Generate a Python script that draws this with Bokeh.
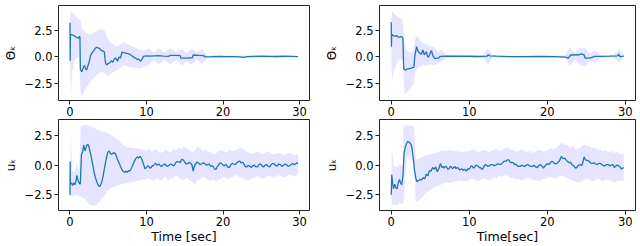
from bokeh.plotting import figure
from bokeh.layouts import column, row
from bokeh.models import Range1d, FixedTicker
from bokeh.embed import file_html
from bokeh.resources import INLINE

# ---------------- data ----------------
# top-left: Theta_k mean
tl_t = [0.0, 0.03, 0.06, 0.3, 0.6, 0.9, 1.1, 1.2, 1.3, 1.36, 1.55, 1.75, 1.9, 2.05, 2.2, 2.35, 2.5, 2.7,
        2.9, 3.1, 3.3, 3.5, 3.7, 3.9, 4.1, 4.3, 4.5, 4.62, 4.8, 5.0, 5.2, 5.4, 5.6, 5.8, 6.0, 6.2, 6.4,
        6.6, 6.8, 7.0, 7.3, 7.6, 7.9, 8.2, 8.5, 8.8, 9.0, 9.2, 9.4, 9.6, 10.0, 10.5, 11.0, 11.6, 12.2,
        12.9, 13.1, 13.8, 14.4, 14.5, 15.3, 16.0, 16.1, 16.8, 17.5, 17.6, 18.5, 19.5, 20.5, 21.5, 22.2,
        22.7, 23.2, 24.0, 25.0, 26.0, 27.0, 28.0, 29.0, 29.8]
tl_m = [3.2, -0.35, 2.1, 2.05, 1.95, 1.8, 1.75, 1.9, 1.85, -1.15, -1.4, -0.95, -0.8, -1.15, -1.2, -0.8, -0.5,
        0.15, 0.4, 0.55, 0.8, 0.9, 0.85, 0.75, 0.6, 0.55, 0.45, -0.5, -0.75, -0.6, -0.55, -0.35, -0.5, -0.2,
        -0.1, -0.4, 0.0, -0.1, 0.45, 0.4, 0.35, 0.3, 0.2, 0.05, -0.1, -0.25, -0.2, -0.4, -0.25, 0.05, 0.1,
        0.08, 0.1, 0.12, 0.08, 0.05, 0.15, 0.15, 0.12, -0.12, -0.1, -0.08, 0.18, 0.15, 0.12, 0.0, 0.02,
        0.05, 0.03, 0.02, 0.0, -0.05, 0.02, 0.05, 0.06, 0.05, 0.04, 0.06, 0.05, 0.03]
tl_bt = [0.0, 0.1, 0.3, 0.6, 0.9, 1.2, 1.4, 1.6, 2.0, 2.5, 3.0, 3.5, 4.0, 4.5, 5.0, 5.5, 6.0, 6.5, 7.0,
         7.5, 8.0, 8.5, 9.0, 9.6, 10.3, 10.95, 11.6, 12.35, 13.1, 13.85, 14.6, 15.25, 15.9, 16.6, 17.3,
         17.9, 19.0, 21.0, 23.0, 25.0, 27.0, 29.8]
tl_hi = [3.2, 4.3, 4.1, 3.9, 3.7, 3.5, 3.4, 2.6, 2.3, 2.1, 2.2, 2.4, 2.6, 2.5, 1.6, 1.2, 1.0, 1.1, 1.4,
         1.2, 1.0, 0.9, 0.7, 0.6, 0.8, 0.4, 0.8, 0.4, 0.85, 0.45, 0.75, 0.35, 0.75, 0.45, 0.75,
         0.15, 0.12, 0.1, 0.12, 0.12, 0.1, 0.1]
tl_lo = [-0.35, -3.6, -1.5, -0.3, -0.1, 0.0, -3.6, -3.6, -3.0, -2.5, -2.0, -1.7, -1.4, -1.5, -1.8, -1.5,
         -1.3, -1.1, -0.8, -0.9, -1.0, -1.0, -1.1, -1.0, -0.75, -0.3, -0.7, -0.3, -0.7, -0.3, -0.8, -0.4,
         -0.7, -0.25, -0.7, -0.1, -0.08, -0.06, -0.06, -0.05, -0.05, -0.05]

# top-right: Theta_k mean
tr_t = [0.0, 0.03, 0.06, 0.3, 0.5, 0.7, 0.9, 1.1, 1.3, 1.5, 1.6, 1.8, 2.0, 2.3, 2.6, 2.9, 3.05, 3.25,
        3.45, 3.65, 3.85, 4.05, 4.25, 4.5, 4.7, 4.9, 5.15, 5.35, 5.6, 6.0, 6.3, 7.0, 8.0, 9.0, 10.0, 11.0,
        12.0, 12.3, 12.45, 12.6, 13.5, 15.0, 17.0, 19.0, 21.0, 22.3, 22.7, 23.0, 24.0, 24.4, 24.7, 24.85,
        25.5, 26.1, 27.0, 28.0, 29.0, 29.15, 29.3, 29.8]
tr_m = [3.25, 0.95, 2.1, 2.0, 1.9, 2.0, 1.85, 1.85, 1.9, 1.75, -1.1, -1.25, -1.15, -1.1, -1.05, -0.95, 0.2,
        0.95, 0.5, 0.35, 0.25, 0.65, 0.2, 0.5, -0.05, 0.15, 0.6, 0.1, -0.15, -0.12, 0.05, 0.08, 0.06, 0.08,
        0.06, 0.04, 0.05, 0.08, 0.2, 0.1, 0.07, 0.03, 0.02, 0.04, 0.03, -0.02, -0.12, 0.18, 0.2, 0.28,
        0.2, -0.12, -0.1, 0.05, 0.05, 0.07, 0.1, 0.25, 0.02, 0.08]
tr_bt = [0.0, 0.1, 0.3, 0.6, 0.9, 1.2, 1.5, 1.7, 2.0, 2.4, 2.8, 3.1, 3.4, 3.8, 4.2, 4.6, 5.0, 5.5, 6.0,
         6.5, 7.0, 8.0, 10.0, 11.8, 12.4, 13.0, 15.0, 18.0, 21.0, 22.3, 22.9, 23.5, 24.1, 24.8, 25.5,
         26.1, 26.7, 27.5, 28.5, 29.2, 29.8]
tr_hi = [3.3, 4.3, 4.1, 3.9, 3.7, 3.6, 3.4, 1.2, 0.6, 0.4, 0.5, 1.8, 2.0, 1.4, 1.2, 1.2, 1.0, 0.9, 0.5,
         0.7, 0.2, 0.15, 0.12, 0.15, 0.8, 0.15, 0.1, 0.1, 0.1, 0.15, 0.85, 0.4, 0.8, 0.9, 0.3, 0.65,
         0.2, 0.15, 0.15, 0.75, 0.25]
tr_lo = [0.9, -2.2, -1.5, -0.8, -0.3, -0.2, -0.3, -3.5, -3.3, -3.0, -2.6, -1.4, -1.0, -0.9, -0.8, -0.8,
         -0.7, -0.8, -0.6, -0.4, -0.1, -0.05, -0.05, -0.05, -0.7, -0.05, -0.05, -0.05, -0.05, -0.1, -0.85,
         -0.3, -0.7, -0.9, -0.4, -0.6, -0.1, -0.05, -0.05, -0.55, -0.1]

# bottom-left: u_k mean, (time, value)
bl_pts = [
    (0.0, -2.5), (0.03, 0.3), (0.06, -1.6), (0.2, -1.5), (0.35, -1.7), (0.5, -1.5), (0.65, -1.65),
    (0.8, -1.3), (0.9, -0.85), (1.05, -1.3), (1.2, -1.5), (1.35, -1.6), (1.5, 0.9), (1.65, 1.1),
    (1.8, 1.7), (1.95, 1.2), (2.1, 1.5), (2.25, 1.75), (2.4, 1.7), (2.55, 1.35), (2.75, 0.8),
    (2.95, 0.1), (3.15, -0.6), (3.35, -1.1), (3.55, -1.5), (3.75, -1.75), (3.9, -1.8), (4.1, -1.55),
    (4.3, -1.0), (4.5, -0.3), (4.7, 0.4), (4.9, 1.0), (5.05, 1.2), (5.2, 1.1), (5.4, 0.9), (5.6, 1.0),
    (5.8, 1.05), (6.0, 0.9), (6.2, 0.5), (6.4, 0.2), (6.6, -0.1), (6.8, -0.4), (7.0, -0.55),
    (7.2, -0.6), (7.35, -0.5), (7.5, -0.6), (7.65, -0.45), (7.8, -0.5), (8.0, -0.3), (8.2, 0.0),
    (8.4, 0.3), (8.6, 0.55), (8.8, 0.7), (9.0, 0.6), (9.2, 0.75), (9.4, 0.5), (9.6, 0.1), (9.8, -0.3),
    (10.0, -0.2), (10.15, -0.05), (10.3, -0.1), (10.45, -0.25), (10.6, -0.2), (10.75, -0.05),
    (10.9, -0.05), (11.05, 0.1), (11.2, 0.15), (11.35, 0.0), (11.5, 0.05), (11.65, 0.1), (11.8, -0.05),
    (12.0, -0.1), (12.2, 0.05), (12.4, 0.1), (12.6, -0.05), (12.8, -0.1), (13.0, 0.05), (13.2, 0.1),
    (13.4, 0.0), (13.6, -0.05), (13.8, 0.2), (14.0, 0.3), (14.2, 0.3), (14.4, 0.2), (14.6, 0.5),
    (14.8, 0.45), (15.0, 0.25), (15.2, 0.1), (15.4, 0.15), (15.6, 0.25), (15.8, 0.15), (15.95, 0.0),
    (16.1, -0.5), (16.25, -0.1), (16.4, 0.1), (16.6, 0.25), (16.8, 0.2), (17.0, 0.05), (17.2, 0.1),
    (17.4, 0.2), (17.6, 0.15), (17.8, 0.0), (18.0, 0.05), (18.2, 0.1), (18.4, -0.1), (18.6, -0.05),
    (18.8, -0.2), (18.95, -0.35), (19.1, -0.35), (19.25, -0.1), (19.4, 0.0), (19.6, 0.2), (19.8, 0.15),
    (20.0, 0.0), (20.2, -0.05), (20.4, 0.05), (20.6, -0.15), (20.8, -0.2), (21.0, 0.0), (21.2, 0.15),
    (21.4, 0.1), (21.6, 0.05), (21.8, 0.2), (22.0, 0.3), (22.2, 0.35), (22.35, 0.2), (22.5, 0.25),
    (22.65, 0.2), (22.8, 0.0), (22.95, -0.15), (23.1, -0.15), (23.3, 0.0), (23.5, -0.1), (23.7, -0.2),
    (23.9, -0.05), (24.1, 0.0), (24.3, -0.15), (24.5, -0.15), (24.7, 0.05), (24.9, 0.1), (25.1, -0.05),
    (25.3, -0.15), (25.5, 0.0), (25.7, 0.05), (25.9, -0.1), (26.1, -0.15), (26.3, 0.05), (26.5, 0.15),
    (26.7, 0.1), (26.9, -0.05), (27.1, -0.05), (27.3, 0.1), (27.5, 0.05), (27.7, -0.1), (27.9, 0.0),
    (28.1, 0.1), (28.3, 0.05), (28.5, -0.1), (28.7, -0.05), (28.9, 0.05), (29.1, 0.15), (29.3, 0.05),
    (29.5, 0.1), (29.65, 0.2), (29.8, 0.15)]
# bottom-left band, (time, lower, upper)
bl_band = [
    (0.0, -2.5, -2.5), (0.08, -2.6, 2.7), (0.3, -2.6, -0.5), (0.6, -2.6, -0.6), (0.9, -2.5, 0.1),
    (1.2, -2.6, -0.5), (1.4, -2.7, 3.3), (1.6, -2.7, 3.35), (2.0, -2.9, 3.4), (2.5, -3.3, 3.35),
    (3.0, -3.45, 3.2), (3.5, -3.35, 3.0), (4.0, -3.0, 2.85), (4.5, -2.6, 2.8), (5.0, -2.1, 2.7),
    (5.5, -1.85, 2.5), (6.0, -1.75, 2.3), (6.5, -1.65, 2.0), (7.0, -1.55, 1.65), (7.5, -1.5, 1.5),
    (8.0, -1.45, 1.5), (8.5, -1.4, 1.45), (9.0, -1.3, 1.4), (9.5, -1.2, 1.3), (10.0, -1.2, 1.25),
    (10.35, -1.05, 1.4), (10.7, -1.3, 1.15), (11.05, -1.25, 1.35), (11.4, -1.1, 1.3), (11.75, -1.3, 1.05),
    (12.1, -1.2, 1.1), (12.45, -1.0, 1.3), (12.8, -1.3, 1.2), (13.15, -1.15, 1.1), (13.5, -1.1, 1.3),
    (13.85, -0.9, 1.25), (14.2, -1.0, 1.45), (14.55, -1.25, 1.4), (14.9, -1.2, 1.6), (15.25, -1.05, 1.45),
    (15.6, -1.3, 1.3), (15.95, -1.4, 1.1), (16.3, -1.6, 1.2), (16.65, -1.3, 1.55), (17.0, -1.2, 1.45),
    (17.35, -1.0, 1.2), (17.7, -1.1, 1.3), (18.05, -1.25, 1.15), (18.4, -1.3, 1.1), (18.75, -1.2, 0.95),
    (19.1, -1.4, 1.0), (19.45, -1.25, 1.2), (19.8, -1.1, 1.3), (20.15, -0.95, 1.15), (20.5, -1.2, 1.05),
    (20.85, -1.1, 1.3), (21.2, -1.0, 1.2), (21.55, -0.85, 1.25), (21.9, -0.9, 1.35), (22.25, -1.05, 1.5),
    (22.6, -1.1, 1.4), (22.95, -1.25, 1.2), (23.3, -1.3, 1.1), (23.65, -1.15, 0.95), (24.0, -1.1, 1.0),
    (24.35, -0.95, 1.15), (24.7, -1.0, 1.1), (25.05, -1.15, 0.95), (25.4, -1.1, 1.0), (25.75, -0.95, 1.15),
    (26.1, -0.9, 1.1), (26.45, -1.05, 0.9), (26.8, -1.0, 0.95), (27.15, -0.85, 1.05), (27.5, -0.9, 1.0),
    (27.85, -1.05, 0.85), (28.2, -1.0, 0.9), (28.55, -0.85, 1.05), (28.9, -0.8, 1.0), (29.25, -0.95, 0.85),
    (29.8, -0.8, 0.9)]

# bottom-right: u_k mean, (time, value)
br_pts = [
    (0.0, -2.5), (0.06, -0.8), (0.2, -1.6), (0.3, -2.0), (0.45, -1.6), (0.6, -1.9), (0.75, -2.0),
    (0.9, -1.5), (1.05, -1.2), (1.2, -1.5), (1.35, -1.65), (1.5, -0.9), (1.65, 1.0), (1.8, 1.5),
    (1.95, 1.8), (2.1, 2.0), (2.25, 1.95), (2.4, 1.85), (2.55, 1.75), (2.7, 1.3), (2.85, 0.4),
    (3.0, -0.5), (3.15, -1.1), (3.3, -1.4), (3.5, -1.3), (3.7, -1.2), (3.9, -1.25), (4.1, -1.05),
    (4.3, -1.15), (4.5, -0.75), (4.7, -0.9), (4.9, -0.45), (5.1, -0.5), (5.3, -0.2), (5.5, -0.35),
    (5.7, -0.15), (5.9, -0.55), (6.1, -0.3), (6.3, 0.15), (6.5, -0.2), (6.65, -0.1), (6.8, -0.25),
    (6.95, -0.1), (7.1, -0.15), (7.25, -0.35), (7.4, -0.3), (7.55, -0.1), (7.7, -0.15), (7.85, -0.3),
    (8.0, -0.2), (8.15, -0.1), (8.3, -0.3), (8.45, -0.2), (8.6, -0.25), (8.75, -0.4), (8.9, -0.35),
    (9.05, -0.3), (9.2, -0.45), (9.35, -0.35), (9.5, -0.4), (9.65, -0.5), (9.8, -0.3), (9.95, -0.35),
    (10.1, -0.25), (10.25, -0.05), (10.4, -0.1), (10.55, -0.25), (10.7, -0.15), (10.85, 0.0),
    (11.0, -0.05), (11.15, -0.1), (11.3, -0.2), (11.45, -0.2), (11.6, -0.35), (11.75, -0.3),
    (11.9, -0.1), (12.05, 0.05), (12.2, 0.0), (12.4, -0.1), (12.6, -0.05), (12.8, 0.05), (13.0, 0.05),
    (13.2, -0.05), (13.4, 0.0), (13.6, 0.1), (13.8, 0.1), (14.0, 0.05), (14.2, 0.15), (14.4, 0.3),
    (14.6, 0.35), (14.75, 0.35), (14.9, 0.45), (15.05, 0.45), (15.2, 0.3), (15.35, 0.2), (15.5, 0.25),
    (15.65, 0.2), (15.8, 0.05), (15.95, 0.1), (16.1, 0.0), (16.3, -0.1), (16.5, -0.1), (16.7, 0.0),
    (16.9, -0.05), (17.1, -0.1), (17.3, 0.0), (17.5, 0.05), (17.7, -0.05), (17.9, -0.1), (18.1, -0.1),
    (18.3, 0.0), (18.5, -0.15), (18.7, -0.2), (18.9, -0.05), (19.05, 0.05), (19.2, 0.0), (19.35, -0.1),
    (19.5, -0.25), (19.65, -0.1), (19.8, 0.0), (19.95, 0.1), (20.1, 0.1), (20.3, 0.1), (20.5, 0.3),
    (20.7, 0.3), (20.9, 0.15), (21.1, 0.1), (21.3, 0.2), (21.55, 0.35), (21.8, 0.75), (21.95, 0.6),
    (22.1, 0.55), (22.25, 0.6), (22.4, 0.45), (22.6, 0.3), (22.8, 0.2), (22.95, 0.25), (23.1, 0.1),
    (23.25, 0.0), (23.4, -0.05), (23.55, -0.2), (23.7, -0.25), (23.85, -0.1), (24.0, 0.0), (24.2, 0.05),
    (24.4, -0.05), (24.55, 0.2), (24.7, 0.7), (24.85, 0.5), (25.0, 0.4), (25.2, 0.4), (25.4, 0.3),
    (25.6, 0.15), (25.8, 0.15), (26.0, 0.2), (26.2, 0.1), (26.4, 0.05), (26.6, 0.15), (26.8, 0.15),
    (27.0, 0.05), (27.2, -0.05), (27.4, -0.05), (27.6, 0.05), (27.8, 0.05), (28.0, -0.05), (28.2, 0.0),
    (28.4, 0.05), (28.6, -0.2), (28.75, -0.1), (28.9, 0.0), (29.05, 0.0), (29.2, -0.1), (29.35, -0.15),
    (29.5, -0.35), (29.65, -0.25), (29.8, -0.2)]
# bottom-right band, (time, lower, upper)
br_band = [
    (0.0, -2.5, -2.5), (0.08, -3.45, 1.5), (0.3, -3.3, 0.0), (0.7, -3.4, -0.2), (1.1, -3.2, 0.1),
    (1.45, -3.3, 0.0), (1.6, -3.0, 3.3), (2.0, 0.7, 3.35), (2.5, 0.6, 3.35), (2.9, 0.2, 3.3),
    (3.15, -3.1, 0.5), (3.5, -3.0, 0.55), (4.0, -2.7, 0.7), (4.5, -2.3, 0.85), (5.0, -2.1, 0.9),
    (5.5, -1.9, 1.0), (6.0, -1.75, 1.1), (6.5, -1.6, 1.25), (7.0, -1.45, 1.2), (7.5, -1.5, 1.3),
    (8.0, -1.4, 1.2), (8.5, -1.35, 1.25), (9.0, -1.3, 1.1), (9.5, -1.4, 1.15), (10.0, -1.25, 1.2),
    (10.35, -1.1, 1.35), (10.7, -1.2, 1.3), (11.05, -1.35, 1.1), (11.4, -1.3, 1.15), (11.75, -1.15, 1.3),
    (12.1, -1.1, 1.25), (12.45, -1.25, 1.1), (12.8, -1.2, 1.2), (13.15, -1.05, 1.35), (13.5, -1.05, 1.35),
    (13.85, -0.9, 1.2), (14.2, -1.0, 1.3), (14.55, -0.85, 1.45), (14.9, -0.9, 1.5), (15.25, -1.05, 1.35),
    (15.6, -1.05, 1.3), (15.95, -1.2, 1.15), (16.3, -1.15, 1.2), (16.65, -1.3, 1.35), (17.0, -1.2, 1.25),
    (17.35, -1.05, 1.1), (17.7, -1.1, 1.2), (18.05, -1.25, 1.05), (18.4, -1.25, 1.1), (18.75, -1.35, 1.25),
    (19.1, -1.3, 1.3), (19.45, -1.15, 1.15), (19.8, -1.15, 1.2), (20.15, -1.0, 1.35), (20.5, -1.0, 1.45),
    (20.85, -1.15, 1.35), (21.2, -1.05, 1.5), (21.55, -0.95, 1.7), (21.9, -0.9, 1.9), (22.25, -1.0, 1.75),
    (22.6, -1.1, 1.7), (22.95, -1.25, 1.5), (23.3, -1.3, 1.6), (23.65, -1.4, 1.35), (24.0, -1.45, 1.4),
    (24.35, -1.35, 1.55), (24.7, -1.3, 1.75), (25.05, -1.15, 1.6), (25.4, -1.2, 1.6), (25.75, -1.35, 1.45),
    (26.1, -1.3, 1.45), (26.45, -1.15, 1.3), (26.8, -1.25, 1.3), (27.15, -1.35, 1.2), (27.5, -1.2, 1.25),
    (27.85, -1.3, 1.1), (28.2, -1.3, 1.2), (28.55, -1.45, 1.05), (28.9, -1.4, 1.1), (29.25, -1.3, 0.95),
    (29.8, -1.35, 0.95)]

x_ticks = [0, 10, 20, 30]
y_ticks = [-2.5, 0.0, 2.5]
y_tick_labels = {-2.5: "\u22122.5", 0: "0.0", 2.5: "2.5"}
x_tick_labels = {0: "0", 10: "10", 20: "20", 30: "30"}

LINE = "#1f77b4"
FONT = "DejaVu Sans"


def panel(t, m, bt, lo, hi, ylab, xlab, yr, w, h, bl, br, bt_, bb):
    p = figure(width=w, height=h, output_backend="svg", toolbar_location=None,
               x_range=Range1d(-1.5, 31.3), y_range=Range1d(*yr),
               min_border_left=bl, min_border_right=br, min_border_top=bt_, min_border_bottom=bb)
    p.varea(x=list(bt), y1=list(lo), y2=list(hi), fill_color="#0000ff", fill_alpha=0.1)
    p.line(list(t), list(m), line_color=LINE, line_width=1.3)
    p.grid.visible = False
    p.outline_line_color = "#222222"
    p.outline_line_width = 1
    p.outline_line_alpha = 1
    p.background_fill_color = "white"
    p.border_fill_color = "white"
    p.xaxis.ticker = FixedTicker(ticks=x_ticks)
    p.yaxis.ticker = FixedTicker(ticks=y_ticks)
    p.xaxis.major_label_overrides = x_tick_labels
    p.yaxis.major_label_overrides = y_tick_labels
    for ax in (p.xaxis, p.yaxis):
        ax.axis_line_color = None
        ax.minor_tick_line_color = None
        ax.major_tick_in = 0
        ax.major_tick_out = 4
        ax.major_tick_line_color = "#222222"
        ax.major_label_text_font = FONT
        ax.major_label_text_font_size = "11.5px"
        ax.major_label_text_color = "black"
        ax.major_label_standoff = 2
        ax.axis_label_text_font = FONT
        ax.axis_label_text_font_style = "normal"
        ax.axis_label_text_color = "black"
    p.yaxis.axis_label = ylab
    p.yaxis.axis_label_text_font_size = "12px"
    p.yaxis.axis_label_standoff = 4
    if xlab:
        p.xaxis.axis_label = xlab
        p.xaxis.axis_label_text_font_size = "12.5px"
        p.xaxis.axis_label_standoff = 0
    return p


top_yr = (-4.07, 4.8)
bot_yr = (-3.82, 3.85)

bl_t, bl_m = zip(*bl_pts)
bl_bt, bl_lo, bl_hi = zip(*bl_band)
br_t, br_m = zip(*br_pts)
br_bt, br_lo, br_hi = zip(*br_band)

p1 = panel(tl_t, tl_m, tl_bt, tl_lo, tl_hi, "\u0398\u2096", None, top_yr, 320, 118, 52, 11, 5, 18)
p2 = panel(tr_t, tr_m, tr_bt, tr_lo, tr_hi, "\u0398\u2096", None, top_yr, 320, 118, 59, 5, 5, 18)
p3 = panel(bl_t, bl_m, bl_bt, bl_lo, bl_hi, "u\u2096", "Time [sec]", bot_yr, 320, 128, 52, 11, 1, 32)
p4 = panel(br_t, br_m, br_bt, br_lo, br_hi, "u\u2096", "Time[sec]", bot_yr, 320, 128, 59, 5, 1, 32)

layout = column(row(p1, p2), row(p3, p4))
open("out.html", "w").write(file_html(layout, INLINE))
